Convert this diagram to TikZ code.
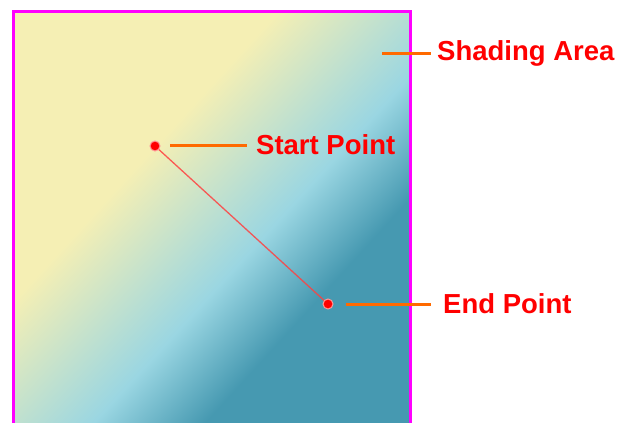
\documentclass[tikz,border=0pt]{standalone}
\usepackage{fontspec}
\setmainfont{Liberation Sans}
\definecolor{cyel}{HTML}{F5EFB4}
\definecolor{cblue}{HTML}{9AD6E2}
\definecolor{cteal}{HTML}{4699B1}
\definecolor{cmag}{HTML}{FF00FF}
\definecolor{corange}{HTML}{FF6A00}
\definecolor{clabel}{HTML}{FF0000}
\pgfdeclarehorizontalshading{areashade}{800bp}{color(0bp)=(cyel); color(283bp)=(cyel); color(424bp)=(cblue); color(506bp)=(cteal); color(800bp)=(cteal)}
\tikzset{
  lbl/.style={anchor=base west, inner sep=0pt, text=clabel, font=\fontsize{27.5}{32}\selectfont\bfseries},
  leader/.style={draw=corange, line width=3pt},
  ptdot/.style={circle, fill=red, draw=red!40, line width=1pt, minimum size=10pt, inner sep=0pt},
  border/.style={draw=cmag, line width=3pt}
}
\begin{document}
\begin{tikzpicture}[x=1pt,y=-1pt]
\useasboundingbox (0,0) rectangle (622,423);
% shading area
\begin{scope}
\clip (13,11) rectangle (410,440);
\begin{pgfscope}
\pgftransformshift{\pgfpointxy{241.5}{225}}
\pgftransformrotate{-42.4}
\pgflowlevelsynccm
\pgfuseshading{areashade}
\end{pgfscope}
\end{scope}
\draw[border] (13,440) -- (13,11) -- (410,11) -- (410,440);
% points
\node[ptdot] (start) at (155,146) {};
\node[ptdot] (end) at (328,304) {};
\draw[draw=red!75, line width=1.3pt, opacity=0.85] (start) -- (end);
% labels
\node[lbl] (lshade) at (437,60) {Shading Area};
\node[lbl] (lstart) at (256,154) {Start Point};
\node[lbl] (lend) at (443,313) {End Point};
% leaders
\coordinate (ashade) at (382,53.3);
\coordinate (bshade) at (431,53.3);
\coordinate (astart) at (170,145);
\coordinate (bstart) at (247,145);
\coordinate (aend) at (345.5,304.5);
\coordinate (bend) at (431,304.5);
\draw[leader] (ashade) -- (bshade);
\draw[leader] (astart) -- (bstart);
\draw[leader] (aend) -- (bend);
\end{tikzpicture}
\end{document}
